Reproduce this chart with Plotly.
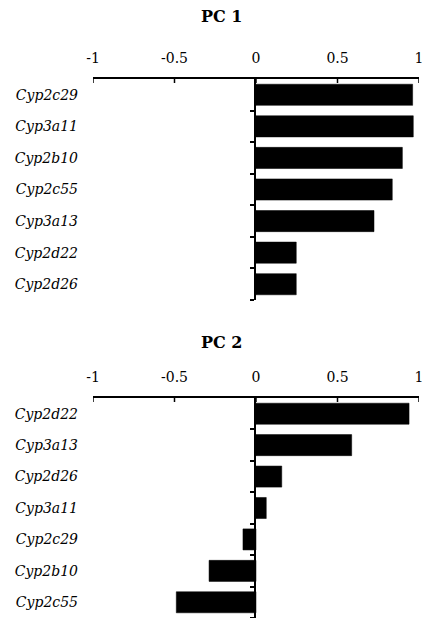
import plotly.graph_objects as go

pc1_genes = ["Cyp2c29", "Cyp3a11", "Cyp2b10", "Cyp2c55", "Cyp3a13", "Cyp2d22", "Cyp2d26"]
pc1_values = [0.961, 0.965, 0.898, 0.836, 0.724, 0.247, 0.247]

pc2_genes = ["Cyp2d22", "Cyp3a13", "Cyp2d26", "Cyp3a11", "Cyp2c29", "Cyp2b10", "Cyp2c55"]
pc2_values = [0.939, 0.587, 0.158, 0.063, -0.08, -0.288, -0.489]

x_ticks = [-1, -0.5, 0, 0.5, 1]
x_ticktext = ["-1", "-0.5", "0", "0.5", "1"]
titles = ["PC 1", "PC 2"]

FONT = "DejaVu Serif"
W, H = 427, 618
L, R = 93, 8

fig = go.Figure()

def add_panel(genes, values, xa, ya, xc, yc):
    n = len(genes)
    fig.add_trace(go.Bar(
        x=values, y=list(range(n)), orientation="h",
        marker=dict(color="black", line=dict(color="black", width=0.5)),
        width=0.67, xaxis=xa, yaxis=ya, showlegend=False, hoverinfo="skip"))
    # invisible trace carrying the axis that draws the vertical line at x = 0
    fig.add_trace(go.Scatter(x=[None], y=[None], xaxis=xc, yaxis=yc,
                             showlegend=False, hoverinfo="skip"))
    # downward tick marks on the top axis line, placed on the x scale
    for t in x_ticks:
        fig.add_shape(type="line", xref=xa, x0=t, x1=t,
                      yref=ya + " domain", ysizemode="pixel", yanchor=1, y0=0, y1=-4,
                      line=dict(color="black", width=1.5), layer="above")

add_panel(pc1_genes, pc1_values, "x", "y", "x5", "y5")
add_panel(pc2_genes, pc2_values, "x2", "y2", "x6", "y6")

HIDDEN = dict(showline=False, showticklabels=False, ticks="", showgrid=False,
              zeroline=False, fixedrange=True)

def xaxis_cfg(anchor):
    return dict(range=[-1, 1], side="top", anchor=anchor, tickvals=x_ticks, ticktext=x_ticktext,
                ticks="", showline=True, linecolor="black", linewidth=1.5, showgrid=False,
                zeroline=False, ticklabelstandoff=9,
                tickfont=dict(family=FONT, size=14, color="black"), fixedrange=True)

def yaxis_cfg(genes, domain, anchor):
    n = len(genes)
    return dict(domain=domain, anchor=anchor, range=[n - 0.5, -0.5],
                tickvals=list(range(n)), ticktext=["<i>%s</i>" % g for g in genes],
                ticks="", showline=False, showgrid=False, zeroline=False,
                ticklabelstandoff=14,
                tickfont=dict(family=FONT, size=14, color="black"), fixedrange=True)

def yline_cfg(n, domain, anchor):
    return dict(domain=domain, anchor=anchor, range=[n - 0.5, -0.5],
                tickvals=[i + 0.5 for i in range(n)], ticks="outside", ticklen=4,
                tickwidth=1.5, tickcolor="black", showticklabels=False,
                showline=True, linecolor="black", linewidth=1.5,
                showgrid=False, zeroline=False, fixedrange=True)

d1 = [1 - 300 / H, 1 - 79 / H]
d2 = [0.0, 1 - 398 / H]

fig.update_layout(
    width=W, height=H, margin=dict(l=L, r=R, t=0, b=0),
    plot_bgcolor="rgba(0,0,0,0)", paper_bgcolor="white",
    xaxis=xaxis_cfg("y"), xaxis2=xaxis_cfg("y2"),
    yaxis=yaxis_cfg(pc1_genes, d1, "x"),
    yaxis2=yaxis_cfg(pc2_genes, d2, "x2"),
    # vertical axis lines at x = 0 (x5/x6 domain starts at the zero position)
    xaxis5=dict(domain=[0.5, 1], anchor="y5", range=[0, 1], **HIDDEN),
    xaxis6=dict(domain=[0.5, 1], anchor="y6", range=[0, 1], **HIDDEN),
    yaxis5=yline_cfg(len(pc1_genes), d1, "x5"),
    yaxis6=yline_cfg(len(pc2_genes), d2, "x6"),
    bargap=0.33,
)

pw = W - L - R
for title, ypix in zip(titles, [17, 342]):
    fig.add_annotation(text="<b>%s</b>" % title, xref="paper", yref="paper",
                       x=(221 - L) / pw, y=1 - ypix / H, showarrow=False,
                       xanchor="center", yanchor="middle",
                       font=dict(family=FONT, size=16, color="black"))

fig.write_html("out.html")
